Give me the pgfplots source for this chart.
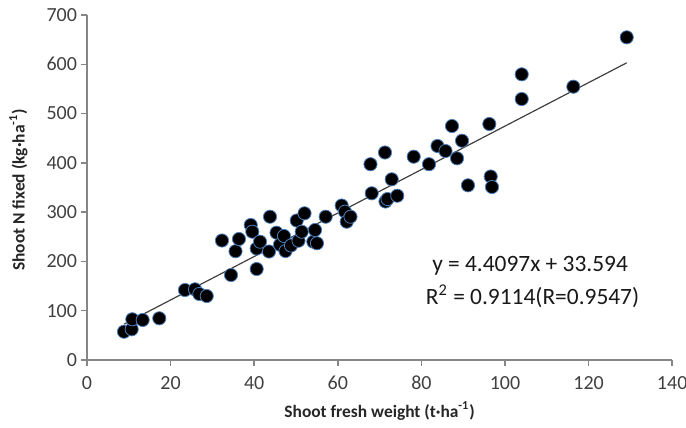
\documentclass[border=0pt]{standalone}
\usepackage{pgfplots}
\pgfplotsset{compat=1.18}
\usepackage{fontspec}
\setmainfont{Carlito}
\definecolor{axisgray}{HTML}{868686}
\definecolor{ticktext}{HTML}{404040}
\definecolor{markedge}{HTML}{4A7EBB}

\begin{document}
\begin{tikzpicture}
\begin{axis}[
  x=2.09pt, y=0.24643pt,
  xmin=0, xmax=140, ymin=0, ymax=700,
  xtick={0,20,...,140}, ytick={0,100,...,700},
  axis lines*=left,
  axis line style={axisgray, line width=0.75pt, -},
  tick style={axisgray, line width=0.75pt},
  tick align=outside,
  major tick length=3pt,
  clip=false,
  /pgf/number format/assume math mode=true,
  ticklabel style={font=\fontsize{10}{12}\selectfont, text=ticktext},
  yticklabel style={anchor=east, xshift=1.5pt},
  xticklabel style={anchor=north, yshift=-1.5pt},
  xlabel={\bfseries Shoot fresh weight (t\textperiodcentered ha\textsuperscript{-1})},
  ylabel={\bfseries Shoot N fixed (kg\textperiodcentered ha\textsuperscript{-1})},
  label style={font=\fontsize{8.7}{10}\selectfont, text=black!85},
  xlabel style={at={(axis description cs:0.5,-0.148)}, anchor=center},
  ylabel style={at={(axis description cs:-0.1173,0.493)}, anchor=center, rotate=0},
]
% linear fit y = 4.4097x + 33.594 over the observed range
\addplot[black!75, line width=0.6pt] coordinates {(8.85,72.62) (129.12,602.99)};

\addplot[only marks, mark=*, mark size=3.3pt,
  mark options={fill=black, draw=markedge, line width=0.4pt}] table {
x y
8.85 57.4
10.69 62.3
10.84 82.6
13.32 81.2
17.29 84.6
23.44 142.0
25.83 143.4
26.87 133.9
28.64 129.8
32.29 242.4
34.45 172.4
35.53 220.7
36.36 245.5
39.17 273.9
39.55 260.3
40.59 184.6
40.59 226.2
41.39 240.0
43.54 220.1
43.78 290.7
45.34 258.3
46.17 233.9
47.13 251.6
47.49 221.1
48.80 232.3
50.17 283.0
50.60 242.0
51.37 260.3
52.04 297.6
54.14 240.0
54.55 263.7
55.02 236.8
57.10 290.7
60.93 313.4
61.72 300.9
62.13 280.6
63.04 290.7
67.82 397.2
68.11 338.2
71.29 421.0
71.41 321.6
71.89 326.6
72.90 366.6
74.23 333.3
78.16 412.5
81.82 397.2
83.85 434.2
85.77 424.0
87.32 474.7
88.52 409.2
89.72 444.9
91.14 354.4
96.25 478.8
96.58 372.3
96.89 351.0
104.00 579.6
104.00 529.5
116.35 554.5
129.12 654.7
};

\node[font=\fontsize{11.7}{14}\selectfont, text=black!90] at (axis cs:106,190.7) {y = 4.4097x + 33.594};
\node[font=\fontsize{11.7}{14}\selectfont, text=black!90] at (axis cs:106.6,129.8) {R\textsuperscript{2} = 0.9114(R=0.9547)};
\end{axis}
\pgfresetboundingbox
\useasboundingbox (-43.5pt,-34pt) rectangle (299.5pt,180pt);
\end{tikzpicture}
\end{document}
